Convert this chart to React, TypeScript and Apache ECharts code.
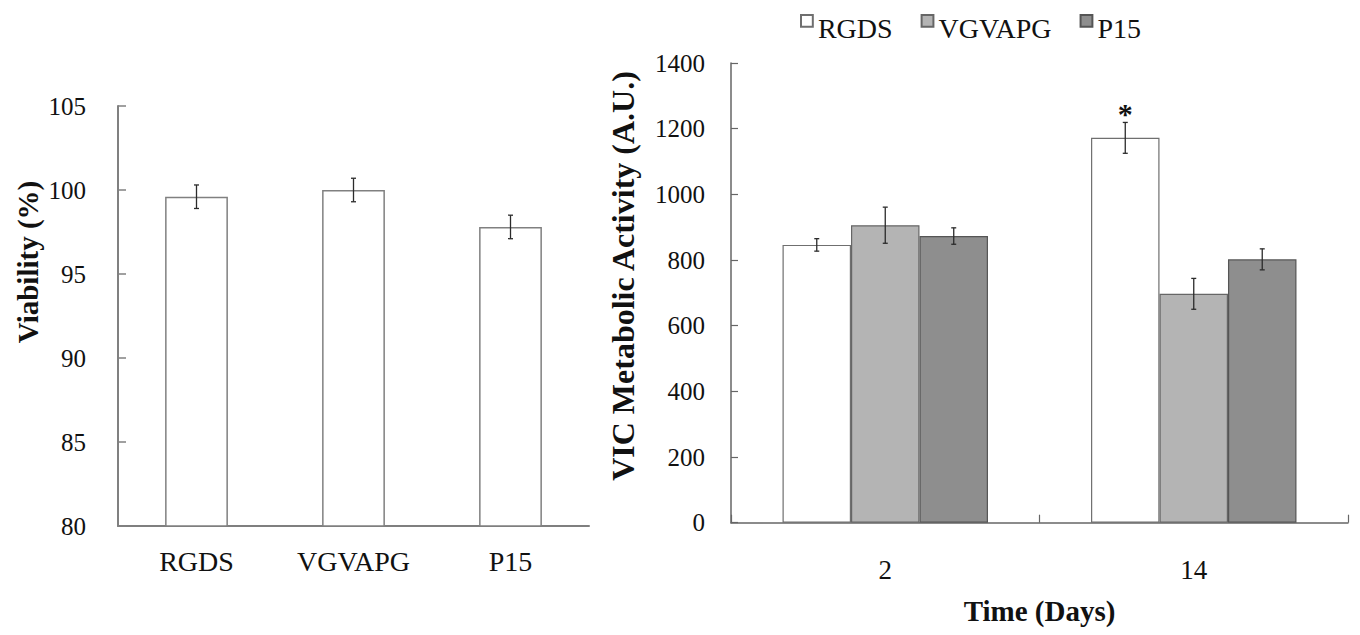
import React, { useEffect, useRef } from 'react';
import * as echarts from 'echarts';

// ---- Left panel: viability ----
const viabilityCategories = ['RGDS', 'VGVAPG', 'P15'];
const viabilityValues = [99.6, 100.0, 97.8];
const viabilityErrors = [0.7, 0.7, 0.7];
const viabilityMin = 80;
const viabilityMax = 105;
const viabilityInterval = 5;

// ---- Right panel: metabolic activity ----
const dayCategories = ['2', '14'];
const seriesNames = ['RGDS', 'VGVAPG', 'P15'];
const rgdsActivity = [846, 1172];
const vgvapgActivity = [906, 697];
const p15Activity = [873, 802];
const rgdsError = [19, 47];
const vgvapgError = [55, 47];
const p15Error = [25, 32];
const rgdsMarks = ['', '*'];
const vgvapgMarks = ['', ''];
const p15Marks = ['', ''];
const activityMin = 0;
const activityMax = 1400;
const activityInterval = 200;

const FONT = 'Liberation Serif';
const BAR_FRAC = 0.222;

export default function App() {
  const ref = useRef<HTMLDivElement>(null);

  useEffect(() => {
    if (!ref.current) return;
    const chart = echarts.init(ref.current, undefined, { renderer: 'svg' });

    const leftErrData = viabilityValues.map((v, i) => [i, v, viabilityErrors[i], 0]);
    const groups = [
      { vals: rgdsActivity, errs: rgdsError, marks: rgdsMarks, k: -1 },
      { vals: vgvapgActivity, errs: vgvapgError, marks: vgvapgMarks, k: 0 },
      { vals: p15Activity, errs: p15Error, marks: p15Marks, k: 1 },
    ];
    const rightErrData: number[][] = [];
    const rightMarks: string[] = [];
    groups.forEach((g) => {
      g.vals.forEach((v, i) => {
        rightErrData.push([i, v, g.errs[i], g.k]);
        rightMarks.push(g.marks[i]);
      });
    });

    const makeErrRender = (frac: number, marks: string[] | null) => (params: any, api: any) => {
      const cat = api.value(0);
      const val = api.value(1);
      const err = api.value(2);
      const k = api.value(3);
      const band = api.size([1, 0])[0];
      const c = api.coord([cat, val]);
      const x = c[0] + k * band * frac;
      const top = api.coord([cat, val + err])[1];
      const bot = api.coord([cat, val - err])[1];
      const cap = 2.5;
      const style = { stroke: '#2b2b2b', lineWidth: 1.3 };
      const children: any[] = [
        { type: 'line', shape: { x1: x, y1: top, x2: x, y2: bot }, style },
        { type: 'line', shape: { x1: x - cap, y1: top, x2: x + cap, y2: top }, style },
        { type: 'line', shape: { x1: x - cap, y1: bot, x2: x + cap, y2: bot }, style },
      ];
      const m = marks ? marks[params.dataIndex] : '';
      if (m) {
        children.push({
          type: 'text',
          x,
          y: top - 9,
          style: {
            text: m,
            fontSize: 30,
            fontWeight: 'bold',
            fontFamily: FONT,
            fill: '#111',
            align: 'center',
            verticalAlign: 'middle',
          },
        });
      }
      return { type: 'group', children };
    };

    const barColors = [
      { color: '#ffffff', borderColor: '#6f6f6f' },
      { color: '#b4b4b4', borderColor: '#666666' },
      { color: '#8e8e8e', borderColor: '#555555' },
    ];
    const rightValues = [rgdsActivity, vgvapgActivity, p15Activity];
    const plain = (v: number) => String(v);

    const option: any = {
      animation: false,
      backgroundColor: '#ffffff',
      textStyle: { fontFamily: FONT },
      legend: {
        data: seriesNames,
        left: 795,
        top: 9,
        itemWidth: 12,
        itemHeight: 26,
        itemGap: 28,
        icon: 'path://M0,0H10V10H0Z M0,22',
        textStyle: { fontSize: 28, fontFamily: FONT, color: '#111' },
      },
      grid: [
        { left: 118, top: 106, width: 471, height: 420, outerBoundsMode: 'none' },
        { left: 731, top: 63, width: 617, height: 459.7, outerBoundsMode: 'none' },
      ],
      xAxis: [
        {
          type: 'category',
          gridIndex: 0,
          data: viabilityCategories,
          axisLine: { show: true, lineStyle: { color: '#7f7f7f', width: 2 } },
          axisTick: { show: false },
          axisLabel: { fontSize: 28, margin: 21, color: '#111', fontFamily: FONT },
        },
        {
          type: 'category',
          gridIndex: 1,
          data: dayCategories,
          axisLine: { show: true, lineStyle: { color: '#666666', width: 1.5 } },
          axisTick: { show: true, inside: true, length: 8, lineStyle: { color: '#666666', width: 1.2 } },
          axisLabel: { fontSize: 27, margin: 34, color: '#111', fontFamily: FONT },
          name: 'Time (Days)',
          nameLocation: 'middle',
          nameGap: 74,
          nameTextStyle: { fontSize: 29, fontWeight: 'bold', color: '#111', fontFamily: FONT },
        },
      ],
      yAxis: [
        {
          type: 'value',
          gridIndex: 0,
          min: viabilityMin,
          max: viabilityMax,
          interval: viabilityInterval,
          axisLine: { show: true, lineStyle: { color: '#808080', width: 2 } },
          axisTick: { show: true, inside: true, length: 8, lineStyle: { color: '#808080', width: 1.5 } },
          splitLine: { show: false },
          axisLabel: { fontSize: 25, margin: 32, color: '#111', fontFamily: FONT, formatter: plain },
        },
        {
          type: 'value',
          gridIndex: 1,
          min: activityMin,
          max: activityMax,
          interval: activityInterval,
          axisLine: { show: true, lineStyle: { color: '#666666', width: 1.5 } },
          axisTick: { show: true, inside: true, length: 7, lineStyle: { color: '#666666', width: 1.2 } },
          splitLine: { show: false },
          axisLabel: { fontSize: 25, margin: 26, color: '#111', fontFamily: FONT, formatter: plain },
        },
      ],
      graphic: [
        {
          type: 'text',
          x: 28,
          y: 262,
          rotation: Math.PI / 2,
          style: {
            text: 'Viability (%)',
            fontSize: 29,
            fontWeight: 'bold',
            fontFamily: FONT,
            fill: '#111',
            align: 'center',
            verticalAlign: 'middle',
          },
        },
        {
          type: 'text',
          x: 623,
          y: 276,
          rotation: Math.PI / 2,
          style: {
            text: 'VIC Metabolic Activity (A.U.)',
            fontSize: 32,
            fontWeight: 'bold',
            fontFamily: FONT,
            fill: '#111',
            align: 'center',
            verticalAlign: 'middle',
          },
        },
      ],
      series: [
        {
          name: 'Viability',
          type: 'bar',
          xAxisIndex: 0,
          yAxisIndex: 0,
          data: viabilityValues,
          barWidth: '40%',
          itemStyle: { color: '#ffffff', borderColor: '#808080', borderWidth: 1.5 },
        },
        {
          name: 'Viability error',
          type: 'custom',
          xAxisIndex: 0,
          yAxisIndex: 0,
          data: leftErrData,
          encode: { x: 0, y: 1 },
          renderItem: makeErrRender(0, null),
          z: 10,
        },
        ...seriesNames.map((name, i) => ({
          name,
          type: 'bar',
          xAxisIndex: 1,
          yAxisIndex: 1,
          data: rightValues[i],
          barWidth: BAR_FRAC * 100 + '%',
          barGap: '0%',
          itemStyle: { ...barColors[i], borderWidth: 1.2 },
        })),
        {
          name: 'Activity error',
          type: 'custom',
          xAxisIndex: 1,
          yAxisIndex: 1,
          data: rightErrData,
          encode: { x: 0, y: 1 },
          renderItem: makeErrRender(BAR_FRAC, rightMarks),
          z: 10,
        },
      ],
    };

    chart.setOption(option);
    return () => chart.dispose();
  }, []);

  return (
    <div
      ref={ref}
      style={{ position: 'absolute', left: 0, top: 0, width: 1360, height: 635, background: '#fff' }}
    />
  );
}
